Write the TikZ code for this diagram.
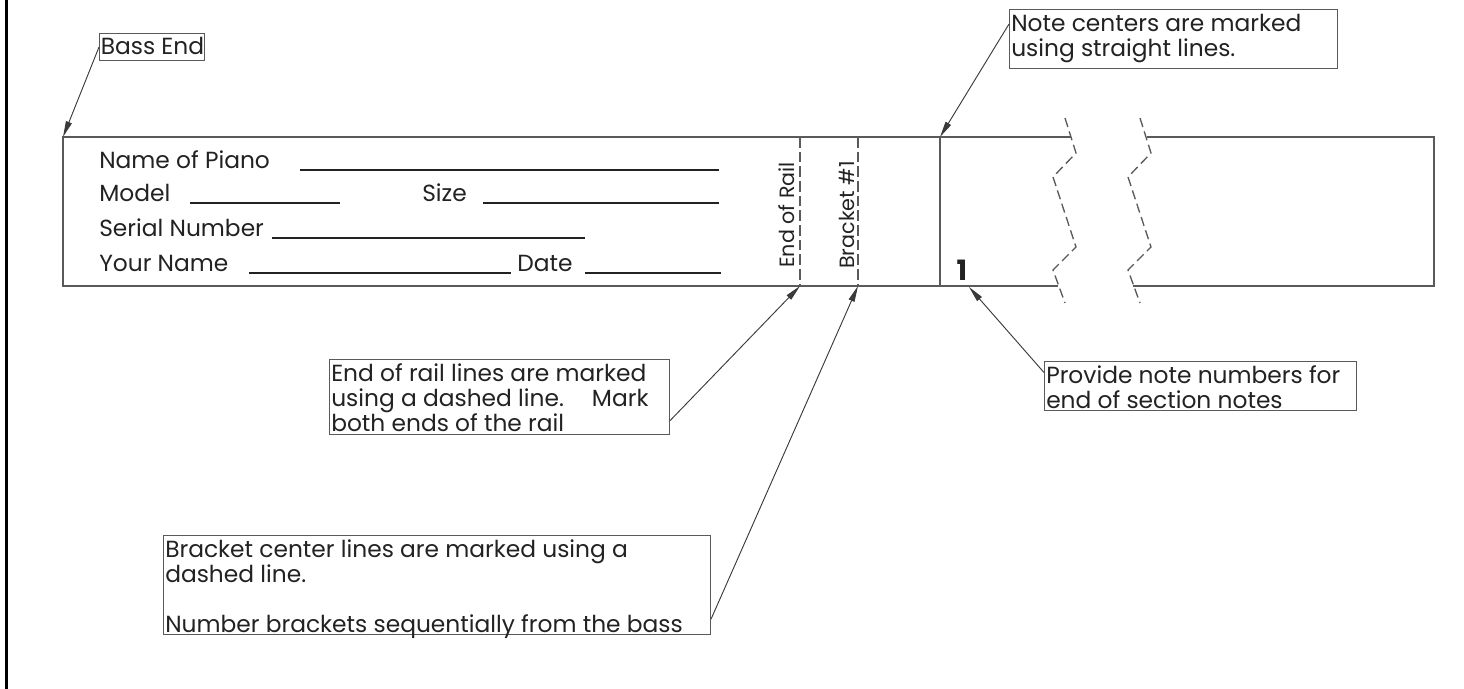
\documentclass[tikz,border=0pt]{standalone}
\usepackage{fontspec}
\setmainfont{Poppins}
\usetikzlibrary{arrows.meta,calc}
\definecolor{ln}{HTML}{5A5A5A}
\definecolor{tx}{HTML}{222222}
\definecolor{ar}{HTML}{3A3A3A}
\newcommand{\notefont}{\fontsize{17.5}{18.75}\selectfont}
\newcommand{\formfont}{\fontsize{17.5}{18}\selectfont}
\newcommand{\railfont}{\fontsize{15.5}{16}\selectfont}
\newcommand{\fl}{\rule{0pt}{14pt}}
\begin{document}
\begin{tikzpicture}[x=0.75pt,y=-0.75pt,
  notebox/.style={draw=ln, line width=0.8pt, anchor=north west, inner sep=0pt},
  notetext/.style={anchor=north west, align=left, inner sep=0pt, text=tx, font=\notefont},
  callout/.style={draw=ar, line width=0.7pt, -{Triangle[length=12pt,width=4.6pt]}},
  strip/.style={draw=ln, line width=1.1pt},
  breakline/.style={draw=ln, line width=1pt, dash pattern=on 7pt off 3.5pt},
  railline/.style={draw=ln, line width=1pt, dash pattern=on 8pt off 3pt},
  formtext/.style={anchor=base west, inner sep=0pt, text=tx, font=\formfont},
  blank/.style={draw=tx, line width=1pt},
  vlabel/.style={rotate=90, inner sep=0pt, text=tx, font=\railfont}]
\useasboundingbox (0,0) rectangle (1464,689);

% page border
\draw[line width=2.3pt, black] (6.5,0) -- (6.5,689);

% strip outline
\draw[strip] (1071,137) -- (63,137) -- (63,286) -- (1058,286);
\draw[strip] (1147,137) -- (1434,137) -- (1434,286) -- (1133,286);
% break lines
\draw[breakline] (1065,118) -- (1076,153) -- (1053,177) -- (1076,247) -- (1053,270) -- (1065,303);
\draw[breakline] (1140,118) -- (1151,153) -- (1128,177) -- (1151,247) -- (1128,270) -- (1140,303);

% rail, bracket, note center lines
\draw[railline] (800,137) -- (800,286);
\draw[railline] (858,137) -- (858,286);
\draw[strip] (940,137) -- (940,286);

\node[vlabel] (rail) at (787,215) {End of Rail};
\node[vlabel] (brk) at (847,215) {Bracket \#1};
\node[text=tx, inner sep=0pt, font=\bfseries\fontsize{21}{22}\selectfont] (one) at (962,270) {1};

% form
\node[formtext] (f1) at (99,168) {Name of Piano};
\draw[blank] (300,170) -- (719,170);
\node[formtext] (f2) at (99,201) {Model};
\draw[blank] (190,203) -- (340,203);
\node[formtext] (f3) at (422,201) {Size};
\draw[blank] (483,203) -- (719,203);
\node[formtext] (f4) at (99,236) {Serial Number};
\draw[blank] (272,238) -- (585,238);
\node[formtext] (f5) at (99,271) {Your Name};
\draw[blank] (249,273) -- (511,273);
\node[formtext] (f6) at (517,271) {Date};
\draw[blank] (585,273) -- (721,273);

% target points
\coordinate (tl) at (63,137);
\coordinate (nctop) at (940,137);
\coordinate (railbot) at (800,286);
\coordinate (brkbot) at (858,286);
\coordinate (onept) at (969,287);

% note boxes
\node[notebox, minimum width=78.75pt, minimum height=20.25pt] (bass) at (99,33) {};
\node[notebox, minimum width=246pt, minimum height=44.25pt] (nc) at (1009,9) {};
\node[notebox, minimum width=255pt, minimum height=56.25pt] (er) at (329,359) {};
\node[notebox, minimum width=410.25pt, minimum height=74.25pt] (bc) at (163,535) {};
\node[notebox, minimum width=234pt, minimum height=36.75pt] (pn) at (1044,361) {};

% note texts
\node[notetext] (bassT) at ($(bass.north west)+(1.5,3)$) {\fl Bass End};
\node[notetext] (ncT) at ($(nc.north west)+(2,4)$)
  {\fl Note centers are marked\\using straight lines.};
\node[notetext] (erT) at ($(er.north west)+(2,4)$)
  {\fl End of rail lines are marked\\using a dashed line.\hspace{1.2em}Mark\\both ends of the rail};
\node[notetext] (bcT) at ($(bc.north west)+(2,4)$)
  {\fl Bracket center lines are marked using a\\dashed line.\\[18.75pt]Number brackets sequentially from the bass};
\node[notetext] (pnT) at ($(pn.north west)+(2,4)$)
  {\fl Provide note numbers for\\end of section notes};

% callouts
\draw[callout] (bass.west) -- (tl);
\draw[callout] ($(nc.north west)!0.25!(nc.south west)$) -- (nctop);
\draw[callout] ($(er.north east)!0.81!(er.south east)$) -- (railbot);
\draw[callout] ($(bc.north east)!0.84!(bc.south east)$) -- (brkbot);
\draw[callout] ($(pn.north west)!0.23!(pn.south west)$) -- (onept);
\end{tikzpicture}
\end{document}
